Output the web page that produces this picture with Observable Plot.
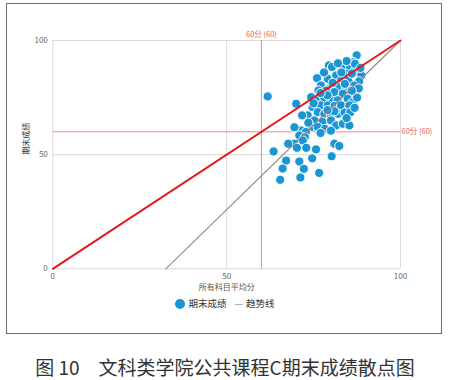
<!DOCTYPE html>
<html><head><meta charset="utf-8">
<script src="https://cdn.jsdelivr.net/npm/d3@7"></script>
<script src="https://cdn.jsdelivr.net/npm/@observablehq/plot@0.6"></script>
<style>
body{margin:0;background:#fff;font-family:"Noto Sans CJK SC","Noto Sans",sans-serif;}
#wrap{position:relative;width:450px;height:380px;overflow:hidden;background:#fff;}
#frame{position:absolute;left:6px;top:3px;width:434px;height:329px;border:1.6px solid #6e6e6e;}
#chart{position:absolute;left:0;top:0;}
#legend{position:absolute;left:0;top:296px;width:450px;text-align:center;font-size:9.5px;color:#333;line-height:14px;}
#legend .dot{display:inline-block;width:10px;height:10px;border-radius:50%;background:#1a96d4;vertical-align:-2px;margin-right:3px;}
#legend .line{color:#888;margin-left:8px;margin-right:3px;}
#caption{position:absolute;left:0;top:356px;width:450px;text-align:center;font-size:19px;color:#333;line-height:22px;}
</style></head>
<body>
<div id="wrap">
<div id="frame"></div>
<div id="chart"></div>
<div id="legend"><span class="dot"></span>期末成绩<span class="line">—</span>趋势线</div>
<div id="caption">图 10　文科类学院公共课程C期末成绩散点图</div>
</div>
<script>
// x: 所有科目平均分, y: 期末成绩
const avgScore = [87.4,86.6,79.4,80.3,83.4,85.5,87.0,88.7,88.1,76.0,79.1,81.5,84.3,82.9,85.0,86.7,77.1,80.0,82.1,84.3,
  76.4,78.6,81.0,83.4,85.6,87.2,61.8,74.3,76.2,78.1,80.0,81.9,84.8,86.3,70.0,74.7,77.1,79.1,81.0,82.9,
  85.3,76.2,73.3,71.7,78.1,80.0,82.1,83.9,75.2,77.6,80.0,81.5,83.4,85.3,74.3,76.2,78.3,71.4,72.8,70.9,
  72.5,71.9,69.5,67.7,63.5,75.7,81.0,82.4,70.2,72.9,80.2,74.6,67.1,70.9,66.1,72.2,76.6,65.4,71.2,85.6,
  86.9,84.5,88.5,86.0,83.0,88.0,87.5,86.0,84.0,80.5,78.0,82.0,79.0,77.0,81.0,79.0,75.0,73.5,77.0,69.5,
  80.0,84.5,86.8];
const finalScore = [93.5,90.5,89.1,88.4,88.4,88.1,87.2,84.7,82.1,83.5,83.2,84.7,85.4,82.5,82.5,80.3,80.3,79.6,79.6,78.9,
  78.1,78.1,77.4,76.7,75.9,77.4,75.5,75.2,74.2,74.5,73.8,73.8,74.5,73.0,72.3,70.8,71.6,71.6,71.3,71.6,
  71.6,68.6,67.2,67.2,67.9,67.2,67.9,68.4,65.0,64.3,65.0,62.8,63.5,62.8,62.1,62.1,61.3,60.6,59.9,58.4,
  57.7,56.2,54.8,54.8,51.4,52.3,54.8,53.8,53.0,53.0,49.3,48.4,47.4,47.0,43.9,43.8,42.0,39.0,40.0,68.6,
  89.8,91.0,88.0,85.5,86.0,79.0,75.0,78.0,81.0,81.5,86.0,90.0,76.0,77.0,69.0,69.5,72.5,64.0,59.5,62.0,
  60.5,66.0,70.5];
const trendX = [32.5, 100];
const trendY = [0, 100];
const diagX = [0, 100];
const diagY = [0, 100];
const axisTicks = [0, 50, 100];
const passLine = [60];
const passLabel = "60分 (60)";
const xTitle = "所有科目平均分";
const yTitle = "期末成绩";

const pts = avgScore.map((x, i) => ({x, y: finalScore[i]}));
const trend = trendX.map((x, i) => ({x, y: trendY[i]}));
const diag = diagX.map((x, i) => ({x, y: diagY[i]}));

const chart = Plot.plot({
  width: 450, height: 340,
  marginLeft: 52.3, marginRight: 50, marginTop: 40, marginBottom: 71.7,
  style: {fontFamily: '"Noto Sans CJK SC","Noto Sans",sans-serif', background: "transparent"},
  x: {domain: [0, 100]},
  y: {domain: [0, 100]},
  marks: [
    Plot.ruleX(axisTicks, {stroke: "#d9d9d9", strokeWidth: 1}),
    Plot.ruleY(axisTicks, {stroke: "#d9d9d9", strokeWidth: 1}),
    Plot.axisX({ticks: axisTicks, tickSize: 0, tickPadding: 5, fontSize: 8, fill: "#666", label: null}),
    Plot.axisY({ticks: axisTicks, tickSize: 0, tickPadding: 5, fontSize: 8, fill: "#666", label: null}),
    Plot.ruleX(passLine, {stroke: "#f28b82", strokeWidth: 1}),
    Plot.ruleY(passLine, {stroke: "#f28b82", strokeWidth: 1}),
    Plot.dot(pts, {x: "x", y: "y", r: 4.6, fill: "#1a96d4", stroke: "white", strokeWidth: 1}),
    Plot.line(trend, {x: "x", y: "y", stroke: "#8a8a8a", strokeWidth: 1.1}),
    Plot.line(diag, {x: "x", y: "y", stroke: "#e3191c", strokeWidth: 2}),
    Plot.text([passLabel], {x: passLine[0], y: 100, dy: -6, fill: "#e9604f", fontSize: 7.5}),
    Plot.text([passLabel], {x: 100, y: passLine[0], dx: 1, textAnchor: "start", fill: "#e9604f", fontSize: 7.5}),
    Plot.text([xTitle], {frameAnchor: "bottom", dy: 21, fill: "#555", fontSize: 8}),
    Plot.text([yTitle], {frameAnchor: "left", dx: -26, rotate: -90, fill: "#333", fontSize: 8})
  ]
});
document.getElementById("chart").appendChild(chart);
</script>
</body></html>
